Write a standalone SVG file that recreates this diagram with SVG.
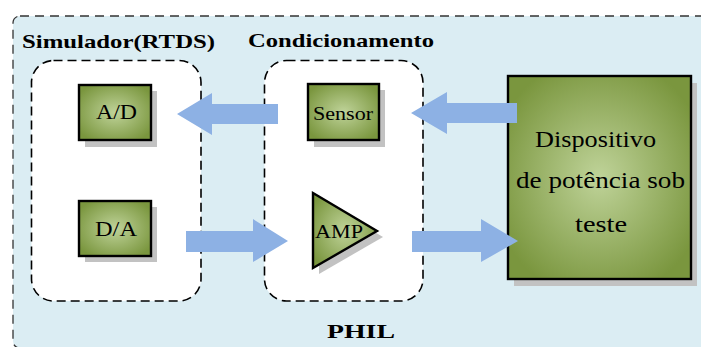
<svg xmlns="http://www.w3.org/2000/svg" width="701" height="347" viewBox="0 0 701 347">
<defs>
<radialGradient id="g" cx="50%" cy="50%" r="60%">
<stop offset="0" stop-color="#bfd399"/>
<stop offset="1" stop-color="#7a963e"/>
</radialGradient>
<style>
.sh{fill:#c2c2c2}
.nd{fill:url(#g);stroke:#000;stroke-width:2.4}
.grp{fill:#fff;stroke:#000;stroke-width:1.6;stroke-dasharray:9 5}
.b{font-weight:bold;font-size:19px}
.ar{fill:#8db1e4}
</style>
</defs>
<rect x="13" y="16" width="700" height="332" rx="7" fill="#dbedf3" stroke="#333" stroke-width="1.3" stroke-dasharray="9 6"/>
<g font-family="Liberation Serif, Times New Roman, DejaVu Serif, serif" fill="#000">
<g id="simulador">
<rect class="grp" x="31.5" y="60.5" width="169.5" height="240.5" rx="22"/>
<text class="b" x="22" y="48" textLength="193" lengthAdjust="spacingAndGlyphs">Simulador(RTDS)</text>
</g>
<g id="condicionamento">
<rect class="grp" x="264.5" y="60.5" width="158.5" height="240.5" rx="22"/>
<text class="b" x="248" y="47" textLength="186" lengthAdjust="spacingAndGlyphs">Condicionamento</text>
</g>
<text id="phil" class="b" x="327" y="338" textLength="68" lengthAdjust="spacingAndGlyphs">PHIL</text>
<g id="ad">
<rect class="sh" x="85" y="91" width="72" height="56"/>
<rect class="nd" x="79" y="85" width="72" height="55"/>
<text x="96" y="119" font-size="20" textLength="41" lengthAdjust="spacingAndGlyphs">A/D</text>
</g>
<g id="da">
<rect class="sh" x="85" y="207" width="72" height="55"/>
<rect class="nd" x="79" y="201" width="72" height="55"/>
<text x="95" y="236" font-size="20" textLength="42" lengthAdjust="spacingAndGlyphs">D/A</text>
</g>
<g id="sensor">
<rect class="sh" x="314" y="90" width="71" height="57"/>
<rect class="nd" x="308" y="84" width="71" height="56"/>
<text x="313" y="120" font-size="19" textLength="60" lengthAdjust="spacingAndGlyphs">Sensor</text>
</g>
<g id="amp">
<polygon class="sh" points="319,199 383,237 319,274"/>
<polygon class="nd" points="313,193 377,231 313,268"/>
<text x="315" y="238" font-size="19" textLength="48" lengthAdjust="spacingAndGlyphs">AMP</text>
</g>
<g id="dispositivo">
<rect class="sh" x="514" y="83" width="183" height="203"/>
<rect class="nd" x="508" y="76" width="183" height="203"/>
<text x="535" y="147" font-size="24" textLength="121" lengthAdjust="spacingAndGlyphs">Dispositivo</text>
<text x="516" y="188" font-size="24" textLength="169" lengthAdjust="spacingAndGlyphs">de potência sob</text>
<text x="575" y="232" font-size="24" textLength="52" lengthAdjust="spacingAndGlyphs">teste</text>
</g>
</g>
<g id="connectors">
<polygon class="ar" points="278,104 212,104 212,93 177,114 212,135 212,124 278,124"/>
<polygon class="ar" points="517,103 447,103 447,92 411,113 447,134 447,123 517,123"/>
<polygon class="ar" points="186,231 253,231 253,219 288,241 253,262 253,252 186,252"/>
<polygon class="ar" points="412,231 481,231 481,219 518,241 481,262 481,252 412,252"/>
</g>
</svg>
